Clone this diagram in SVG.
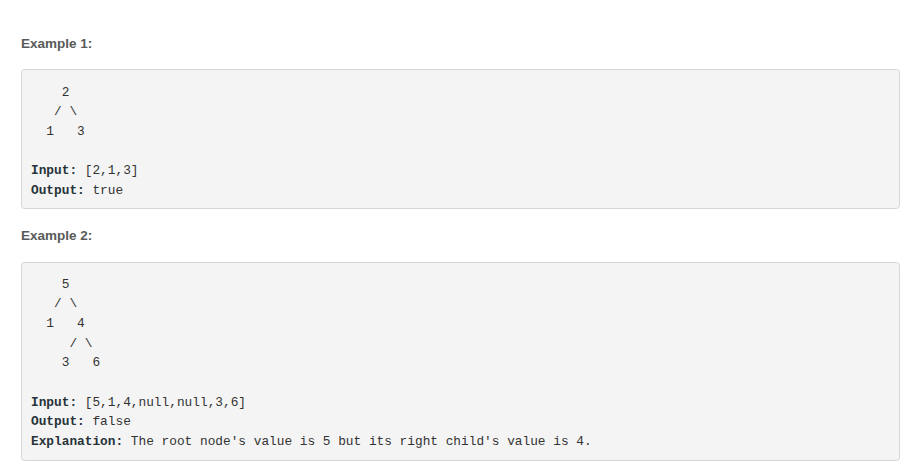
<svg xmlns="http://www.w3.org/2000/svg" width="908" height="473" viewBox="0 0 908 473">
  <style>
    .h { font-family: "Liberation Sans", Arial, sans-serif; font-weight: bold; font-size: 13.5px; fill: #595959; }
    .box { fill: #f4f4f4; stroke: #d6d6d6; stroke-width: 1; }
    .m { font-family: "Liberation Mono", "DejaVu Sans Mono", monospace; font-size: 12.8px; fill: #333333; white-space: pre; }
    .b { font-weight: bold; fill: #263238; }
  </style>
  <rect x="0" y="0" width="908" height="473" fill="#ffffff"/>

  <g id="example1">
    <text class="h" x="21" y="47.5">Example 1:</text>
    <rect class="box" x="21.5" y="69.5" width="878" height="139" rx="3"/>
    <text class="m" x="31" y="95.5" xml:space="preserve">    2</text>
    <text class="m" x="31" y="115.2" xml:space="preserve">   / \</text>
    <text class="m" x="31" y="134.9" xml:space="preserve">  1   3</text>
    <text class="m" x="31" y="174.3" xml:space="preserve"><tspan class="b">Input:</tspan> [2,1,3]</text>
    <text class="m" x="31" y="194" xml:space="preserve"><tspan class="b">Output:</tspan> true</text>
  </g>

  <g id="example2">
    <text class="h" x="21" y="239.5">Example 2:</text>
    <rect class="box" x="21.5" y="262.5" width="878" height="198" rx="3"/>
    <text class="m" x="31" y="287.5" xml:space="preserve">    5</text>
    <text class="m" x="31" y="307.2" xml:space="preserve">   / \</text>
    <text class="m" x="31" y="326.9" xml:space="preserve">  1   4</text>
    <text class="m" x="31" y="346.6" xml:space="preserve">     / \</text>
    <text class="m" x="31" y="366.3" xml:space="preserve">    3   6</text>
    <text class="m" x="31" y="405.7" xml:space="preserve"><tspan class="b">Input:</tspan> [5,1,4,null,null,3,6]</text>
    <text class="m" x="31" y="425.4" xml:space="preserve"><tspan class="b">Output:</tspan> false</text>
    <text class="m" x="31" y="445.1" xml:space="preserve"><tspan class="b">Explanation:</tspan> The root node's value is 5 but its right child's value is 4.</text>
  </g>
</svg>
